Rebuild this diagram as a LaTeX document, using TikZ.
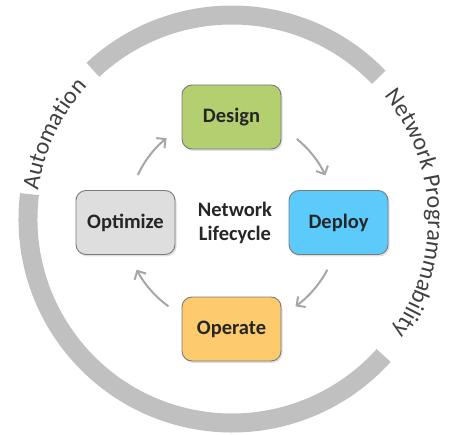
\documentclass[tikz,border=0pt]{standalone}
\usepackage{fontspec}
\setmainfont{Carlito}
\usetikzlibrary{arrows.meta,shadows,decorations.text}
\definecolor{ringgray}{HTML}{C0C0C0}
\definecolor{arrowgray}{HTML}{A6A6A6}
\definecolor{ringtext}{HTML}{404040}
\definecolor{labeltext}{HTML}{262626}
\definecolor{designfill}{HTML}{B3CF6F}
\definecolor{deployfill}{HTML}{5CCBFB}
\definecolor{optfill}{HTML}{DEDEDE}
\definecolor{operfill}{HTML}{FDCA6E}
\definecolor{boxborder}{HTML}{7A7A7A}
\newfontfamily\ringfont{Carlito}
\begin{document}
\begin{tikzpicture}[x=1pt,y=1pt,
  stagebox/.style={draw=boxborder, line width=0.9pt, rounded corners=10pt,
    minimum width=99pt, minimum height=64pt, inner sep=0pt,
    font=\fontsize{20.5}{24}\selectfont\bfseries, text=labeltext,
    drop shadow={opacity=0.25, shadow xshift=1.5pt, shadow yshift=-2pt}},
  ringarc/.style={draw=ringgray, line width=19pt},
  cyc/.style={draw=arrowgray, line width=2pt, -{Straight Barb[length=6.5pt,width=13pt]}}
]
\useasboundingbox (0,0) rectangle (452,434);
\coordinate (C) at (232,215);

% ring arcs
\coordinate (r1) at ([shift={(44:204pt)}]C);
\coordinate (r2) at ([shift={(173:204pt)}]C);
\path[ringarc] (r1) arc[start angle=44, end angle=133, radius=204pt];
\path[ringarc] (r2) arc[start angle=173, end angle=318, radius=204pt];

% ring texts
\coordinate (t1) at ([shift={(176:196pt)}]C);
\coordinate (t2) at ([shift={(44:196pt)}]C);
\path[decorate, decoration={text along path, text align=center,
  text={|\fontsize{24}{28}\ringfont\color{ringtext}|Automation}}]
  (t1) arc[start angle=176, end angle=133, radius=196pt];
\path[decorate, decoration={text along path, text align=center,
  text={|\fontsize{24}{28}\ringfont\color{ringtext}|Network Programmability}}]
  (t2) arc[start angle=44, end angle=-40, radius=196pt];

% stages
\node[stagebox, fill=designfill] (design) at (231.5,317) {Design};
\node[stagebox, fill=deployfill] (deploy) at (338.5,211.5) {Deploy};
\node[stagebox, fill=optfill] (optimize) at (125.5,211.5) {Optimize};
\node[stagebox, fill=operfill] (operate) at (231.5,105) {Operate};
\node[font=\fontsize{20.5}{24.5}\selectfont\bfseries, text=labeltext, align=center] (center) at (235,211) {Network\\Lifecycle};

% cycle arrows
\coordinate (a1) at ([shift={(51:103pt)}]C);
\coordinate (a2) at ([shift={(-28:108pt)}]C);
\coordinate (a3) at ([shift={(-126:108pt)}]C);
\coordinate (a4) at ([shift={(155:104pt)}]C);
\draw[cyc] (a1) arc[start angle=51, end angle=25, radius=103pt];
\draw[cyc] (a2) arc[start angle=-28, end angle=-54, radius=108pt];
\draw[cyc] (a3) arc[start angle=-126, end angle=-152, radius=108pt];
\draw[cyc] (a4) arc[start angle=155, end angle=129, radius=104pt];
\end{tikzpicture}
\end{document}
